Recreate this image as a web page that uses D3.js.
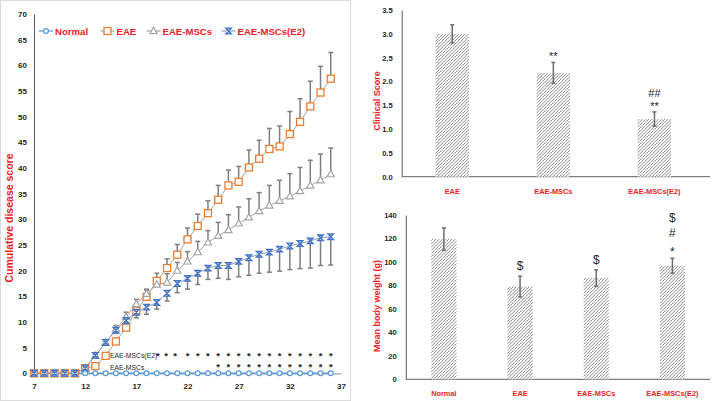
<!DOCTYPE html>
<html>
<head>
<meta charset="utf-8">
<script src="https://cdn.jsdelivr.net/npm/d3@7"></script>
<style>
  body { margin: 0; background: #fff; }
  svg { display: block; font-family: "Liberation Sans", Arial, sans-serif; }
</style>
</head>
<body>
<svg width="712" height="401"></svg>
<script>
// cumulative disease score, days 7..36
const days = d3.range(7, 37);
const normal = days.map(() => 0);
const eae = [0, 0, 0, 0, 0, 1, 1.4, 3.4, 6.2, 8.9, 12.2, 14.9, 18, 20.5, 23.1, 26.1, 28.7, 31.2, 33.8, 36.6, 37.3, 40.1, 41.8, 43.7, 44.2, 46.6, 49, 52, 54.7, 57.4];
const eaeErr = [0, 0, 0, 0, 0, 0, 0.3, 0.5, 0.6, 0.8, 0.9, 1.3, 1.5, 1.8, 2, 2.2, 2.3, 2.4, 2.8, 3, 3, 3.4, 3.6, 4, 4, 4.4, 4.5, 4.9, 5.1, 5.1];
const msc = [0, 0, 0, 0, 0, 1, 3.4, 6, 8.6, 11, 13.5, 15.5, 17.3, 17.7, 20, 21.8, 23.6, 25.5, 26.8, 27.9, 29.2, 30.4, 31.6, 32.7, 33.6, 34.5, 35.5, 36.6, 37.6, 38.8];
const mscErr = [0, 0, 0, 0, 0, 0.2, 0.3, 0.5, 0.7, 0.9, 0.9, 0.9, 1.2, 1.7, 1.6, 1.9, 2.1, 2.3, 2.6, 3, 3.2, 3.6, 3.6, 3.9, 4, 4.4, 4.6, 4.9, 5.1, 5.1];
const e2 = [0, 0, 0, 0, 0, 1, 3.5, 6, 8.4, 10.3, 11.9, 12.9, 13.8, 15.6, 17.5, 18.5, 19.5, 20.5, 21, 21, 21.8, 22.5, 23.2, 23.6, 24.2, 24.8, 25.3, 25.8, 26.4, 26.6];
const e2Err = [0, 0, 0, 0, 0, 0.2, 0.3, 0.4, 0.5, 0.7, 1.1, 1.4, 1.3, 1.5, 1.8, 2.1, 2.2, 2.2, 2.5, 2.7, 3, 3.4, 3.7, 3.9, 4.3, 4.6, 4.9, 5.3, 5.4, 5.5];
const seriesNames = ["Normal", "EAE", "EAE-MSCs", "EAE-MSCs(E2)"];
const xTicks = [7, 12, 17, 22, 27, 32, 37];
const yTicks = d3.range(0, 71, 5);
const sigE2Days = [19.1, 19.9, 20.8, 22, 23, 24, 25, 26, 27, 28, 29, 30, 31, 32, 33, 34, 35, 36];
const sigMscDays = [25, 26, 27, 28, 29, 30, 31, 32, 33, 34, 35, 36];

// clinical score
const clinGroups = ["EAE", "EAE-MSCs", "EAE-MSCs(E2)"];
const clinValues = [3.0, 2.18, 1.21];
const clinErr = [0.19, 0.22, 0.15];
const clinMarks = [[], ["**"], ["##", "**"]];
const clinTicks = [0, 0.5, 1, 1.5, 2, 2.5, 3, 3.5];

// body weight
const wGroups = ["Normal", "EAE", "EAE-MSCs", "EAE-MSCs(E2)"];
const wValues = [119.5, 79, 86.2, 96.8];
const wErr = [9.5, 8.8, 7, 6.3];
const wMarks = [[], ["$"], ["$"], ["$", "#", "*"]];
const wTicks = d3.range(0, 141, 20);

const RED = "#ee1c25";
const TXT = "#262626";
const ERR = "#7f7f7f";
const svg = d3.select("svg");

// hatch pattern
const defs = svg.append("defs");
const pat = defs.append("pattern")
  .attr("id", "hatch")
  .attr("patternUnits", "userSpaceOnUse")
  .attr("width", 3.2).attr("height", 3.2);
pat.append("rect").attr("width", 3.2).attr("height", 3.2).attr("fill", "#fff");
pat.append("path")
  .attr("d", "M-0.8,0.8 L0.8,-0.8 M0,3.2 L3.2,0 M2.4,4 L4,2.4")
  .attr("stroke", "#6e6e6e").attr("stroke-width", 0.8);

svg.append("rect")
  .attr("x", 0.5).attr("y", 0.5).attr("width", 350).attr("height", 400)
  .attr("fill", "none").attr("stroke", "#dcdcdc");

function drawMarker(g, type, x, y) {
  if (type === "Normal") {
    g.append("circle").attr("cx", x).attr("cy", y).attr("r", 2.4)
      .attr("fill", "#fff").attr("stroke", "#5b9bd5").attr("stroke-width", 1.2);
  } else if (type === "EAE") {
    g.append("rect").attr("x", x - 3.5).attr("y", y - 3.5).attr("width", 7).attr("height", 7)
      .attr("fill", "#fff").attr("stroke", "#ed7d31").attr("stroke-width", 1.3);
  } else if (type === "EAE-MSCs") {
    g.append("path").attr("d", `M${x},${y - 3.8}L${x + 3.6},${y + 2.6}L${x - 3.6},${y + 2.6}Z`)
      .attr("fill", "#fff").attr("stroke", "#a5a5a5").attr("stroke-width", 1.2);
  } else {
    g.append("path").attr("d", `M${x - 2.8},${y - 2.8}H${x + 2.8}L${x - 2.8},${y + 2.8}H${x + 2.8}Z`)
      .attr("fill", "#9dc3e6").attr("stroke", "#4472c4").attr("stroke-width", 1.3);
  }
}

function drawLineChart() {
  const scX = d3.scaleLinear().domain([7, 37]).range([34, 341]);
  const scY = d3.scaleLinear().domain([0, 70]).range([373.3, 14]);

  const axY = svg.append("g").attr("transform", "translate(34,0)")
    .call(d3.axisLeft(scY).tickValues(yTicks).tickSize(0).tickPadding(7));
  axY.select(".domain").attr("stroke", "#595959");
  axY.selectAll("text").attr("font-size", 8).attr("font-weight", "bold").attr("fill", TXT);

  const axX = svg.append("g").attr("transform", "translate(0,373.3)")
    .call(d3.axisBottom(scX).tickValues(xTicks).tickSize(0).tickPadding(10));
  axX.select(".domain").attr("stroke", "#a6a6a6").attr("stroke-width", 1.2);
  axX.selectAll("text").attr("font-size", 8).attr("font-weight", "bold").attr("fill", TXT);

  svg.append("text")
    .attr("transform", `translate(13,218) rotate(-90)`)
    .attr("text-anchor", "middle")
    .attr("font-size", 10.5).attr("font-weight", "bold").attr("fill", RED)
    .text("Cumulative disease score");

  const series = [
    { name: "Normal", values: normal, err: null, dir: 0, line: "#5b9bd5" },
    { name: "EAE", values: eae, err: eaeErr, dir: 1, line: "#a5a5a5" },
    { name: "EAE-MSCs", values: msc, err: mscErr, dir: 1, line: "#a5a5a5" },
    { name: "EAE-MSCs(E2)", values: e2, err: e2Err, dir: -1, line: "#8e9fbd" },
  ];

  const lineGen = d3.line().x((d) => scX(d[0])).y((d) => scY(d[1]));

  // error bars first
  const errG = svg.append("g").attr("stroke", ERR).attr("stroke-width", 1.5);
  series.forEach((s) => {
    if (!s.err) return;
    days.forEach((day, i) => {
      if (s.err[i] <= 0) return;
      const x = scX(day);
      const y1 = scY(s.values[i]);
      const y2 = scY(s.values[i] + s.dir * s.err[i]);
      errG.append("line").attr("x1", x).attr("x2", x).attr("y1", y1).attr("y2", y2);
      errG.append("line").attr("x1", x - 2.5).attr("x2", x + 2.5).attr("y1", y2).attr("y2", y2);
    });
  });

  series.forEach((s) => {
    const pts = days.map((d, i) => [d, s.values[i]]);
    svg.append("path").attr("d", lineGen(pts))
      .attr("fill", "none").attr("stroke", s.line).attr("stroke-width", s.name === "Normal" ? 1.6 : 1);
  });

  const mk = svg.append("g");
  [series[1], series[2], series[3], series[0]].forEach((s) => {
    days.forEach((day, i) => {
      if (s.name === "Normal" && day < 12) return;
      drawMarker(mk, s.name, scX(day), scY(s.values[i]));
    });
  });

  // legend
  const legX = [39, 100.5, 146.5, 221.5];
  const leg = svg.append("g");
  seriesNames.forEach((name, i) => {
    const s = series[i];
    leg.append("line").attr("x1", legX[i]).attr("x2", legX[i] + 14).attr("y1", 31).attr("y2", 31)
      .attr("stroke", s.line).attr("stroke-width", 1.2);
    drawMarker(leg, name, legX[i] + 7, 31);
    leg.append("text").attr("x", legX[i] + 16).attr("y", 34.5)
      .attr("font-size", 9.6).attr("font-weight", "bold").attr("fill", RED).text(name);
  });

  // significance rows
  svg.append("text").attr("x", 110).attr("y", 358)
    .attr("font-size", 6.8).attr("fill", TXT).text("EAE-MSCs(E2)");
  svg.append("text").attr("x", 110).attr("y", 369.5)
    .attr("font-size", 6.8).attr("fill", TXT).text("EAE-MSCs");
  svg.append("g").selectAll("text").data(sigE2Days).join("text")
    .attr("x", (d) => scX(d)).attr("y", 359).attr("text-anchor", "middle")
    .attr("font-size", 9.5).attr("font-weight", "bold").attr("fill", TXT).text("*");
  svg.append("g").selectAll("text").data(sigMscDays).join("text")
    .attr("x", (d) => scX(d)).attr("y", 370).attr("text-anchor", "middle")
    .attr("font-size", 9.5).attr("font-weight", "bold").attr("fill", TXT).text("*");
}

function drawBarChart(cfg) {
  const scX = d3.scaleBand().domain(cfg.groups).range(cfg.xRange);
  const scY = d3.scaleLinear().domain(cfg.yDomain).range(cfg.yRange);
  const bw = scX.bandwidth() * 0.33;

  const axY = svg.append("g").attr("transform", `translate(${cfg.xRange[0]},0)`)
    .call(d3.axisLeft(scY).tickValues(cfg.ticks).tickSize(0).tickPadding(9));
  axY.select(".domain").attr("stroke", "#595959");
  axY.selectAll("text").attr("font-size", 7.6).attr("font-weight", "bold").attr("fill", TXT);

  svg.append("line")
    .attr("x1", cfg.xRange[0]).attr("x2", 710)
    .attr("y1", cfg.yRange[0]).attr("y2", cfg.yRange[0])
    .attr("stroke", "#7f7f7f").attr("stroke-width", 1.2);

  svg.append("g").selectAll("text").data(cfg.groups).join("text")
    .attr("x", (d) => scX(d) + scX.bandwidth() / 2)
    .attr("y", cfg.yRange[0] + 17)
    .attr("text-anchor", "middle")
    .attr("font-size", 7.4).attr("font-weight", "bold").attr("fill", RED)
    .text((d) => d);

  svg.append("text")
    .attr("transform", `translate(377,${cfg.titleY}) rotate(-90)`)
    .attr("text-anchor", "middle").attr("dy", "0.35em")
    .attr("font-size", 9).attr("font-weight", "bold").attr("fill", RED)
    .text(cfg.title);

  svg.append("g").selectAll("rect").data(cfg.groups).join("rect")
    .attr("x", (d) => scX(d) + scX.bandwidth() / 2 - bw / 2)
    .attr("y", (d, i) => scY(cfg.values[i]))
    .attr("width", bw)
    .attr("height", (d, i) => cfg.yRange[0] - scY(cfg.values[i]))
    .attr("fill", "url(#hatch)");

  const eg = svg.append("g").attr("stroke", "#6f6f6f").attr("stroke-width", 1.5);
  cfg.groups.forEach((g, i) => {
    const x = scX(g) + scX.bandwidth() / 2;
    const yt = scY(cfg.values[i] + cfg.err[i]);
    const yb = scY(cfg.values[i] - cfg.err[i]);
    eg.append("line").attr("x1", x).attr("x2", x).attr("y1", yt).attr("y2", yb);
    eg.append("line").attr("x1", x - 2).attr("x2", x + 2).attr("y1", yt).attr("y2", yt);
    eg.append("line").attr("x1", x - 2).attr("x2", x + 2).attr("y1", yb).attr("y2", yb);

    // stacked marks, last one sits just above the cap
    const marks = cfg.marks[i];
    const n = marks.length;
    marks.forEach((m, k) => {
      const isStar = m.indexOf("*") >= 0;
      svg.append("text")
        .attr("x", x)
        .attr("y", yt - cfg.markGap - (n - 1 - k) * cfg.markStep + (isStar ? 8 : 4))
        .attr("text-anchor", "middle")
        .attr("font-size", cfg.markSize).attr("fill", TXT)
        .text(m);
    });
  });
}

drawLineChart();

drawBarChart({
  groups: clinGroups, values: clinValues, err: clinErr, marks: clinMarks,
  ticks: clinTicks, yDomain: [0, 3.5], yRange: [176.7, 10], xRange: [401.7, 705],
  title: "Clinical Score", titleY: 101, markGap: 10, markStep: 9, markSize: 11,
});

drawBarChart({
  groups: wGroups, values: wValues, err: wErr, marks: wMarks,
  ticks: wTicks, yDomain: [0, 140], yRange: [379.3, 215], xRange: [405.8, 710.5],
  title: "Mean body weight (g)", titleY: 306, markGap: 10, markStep: 15, markSize: 12,
});
</script>
</body>
</html>
